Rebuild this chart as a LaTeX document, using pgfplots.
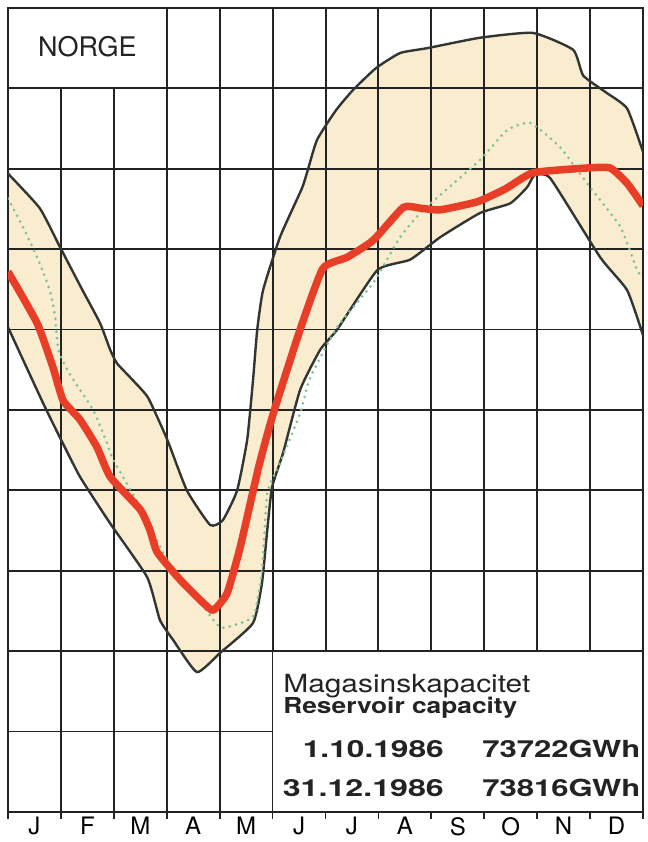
\documentclass[border=0pt]{standalone}
\usepackage{pgfplots}
\pgfplotsset{compat=1.18}
\usepgfplotslibrary{fillbetween}
\usepackage{fontspec}
\setmainfont{TeX Gyre Heros}
\usepackage{graphicx}

\definecolor{band}{RGB}{250,236,207}
\definecolor{redline}{RGB}{232,62,40}
\definecolor{envline}{RGB}{50,54,50}
\definecolor{gridc}{RGB}{35,35,35}
\definecolor{greendot}{RGB}{125,195,150}

\begin{document}
\begin{tikzpicture}
\begin{axis}[
  set layers,
  at={(0pt,0pt)}, anchor=south west,
  width=635pt, height=804pt, scale only axis,
  xmin=0, xmax=12, ymin=0, ymax=100,
  xtick={0.5,1.5,...,11.5},
  xticklabels={J,F,M,A,M,J,J,A,S,O,N,D},
  minor xtick={0,1,...,12},
  ytick={0,10,...,100}, yticklabels={},
  xminorgrids, ymajorgrids,
  major tick length=0pt, minor tick length=7pt,
  tick align=outside, xtick pos=bottom, ytick pos=left,
  tick style={line width=1.8pt, color=gridc},
  grid style={line width=1.8pt, color=gridc},
  every minor grid/.style={line width=2pt, color=gridc},
  axis line style={line width=1.8pt, color=gridc},
  xticklabel style={font=\fontsize{24}{24}\selectfont, inner sep=0pt, yshift=-5pt},
  /tikz/fill between/on layer=axis background,
]

% upper envelope
\addplot[name path=up, envline, line width=2.4pt, smooth, tension=0.3] coordinates {
  (0,79.4) (0.6,75.1) (0.98,70.3) (1.4,65.0) (1.74,60.8) (1.93,57.5) (2.06,55.8)
  (2.36,53.7) (2.65,51.5) (3.01,46.3) (3.38,40.0) (3.82,35.7) (4.06,36.3) (4.33,40.0)
  (4.52,46.3) (4.63,53.7) (4.71,60.0) (4.82,64.9) (5.14,71.5) (5.55,77.5) (5.65,79.5)
  (5.84,83.6) (6.2,87.3) (6.52,89.8) (6.95,92.5) (7.41,94.4) (7.92,95.0) (8.92,96.3)
  (9.92,96.9) (10.68,94.8) (10.87,91.6) (11.3,89.5) (11.70,87.5) (12,82.1)
};
% lower envelope
\addplot[name path=lo, envline, line width=2.4pt, smooth, tension=0.3] coordinates {
  (0,60.3) (0.66,50.9) (0.98,46.6) (1.36,41.7) (1.93,35.9) (2.63,29.2) (2.87,23.9)
  (3.12,21.4) (3.57,17.4) (4.01,19.8) (4.63,23.5) (4.80,28.5) (4.90,35.1) (4.99,40.4)
  (5.20,44.7) (5.52,52.5) (5.90,57.5) (6.22,60.0) (6.98,67.4) (7.60,68.7) (8.17,71.5)
  (8.92,74.5) (9.49,75.7) (9.81,77.7) (9.95,79.2) (10.25,78.8) (11.19,69.0)
  (11.70,64.9) (12,59.3)
};
\addplot[fill=band, draw=none] fill between[of=up and lo];

% dotted green curve
\addplot[greendot, line width=3pt, line cap=round, dash pattern=on 0pt off 6.5pt, smooth, tension=0.3] coordinates {
  (0,76.3) (0.28,72.8) (0.55,69.0) (0.79,64.9) (0.89,61.6) (0.95,57.5) (1.12,55.0)
  (1.36,52.5) (1.61,50.0) (1.87,45.9) (1.99,43.8) (2.50,37.9) (3.01,31.3) (3.44,28.0)
  (3.88,23.9) (4.06,22.9) (4.63,24.3) (4.80,30.1) (4.90,39.7) (5.14,43.4) (5.52,49.6)
  (5.71,54.0) (6.22,60.3) (6.90,65.8) (7.41,71.5) (7.79,74.5) (8.3,77.5) (8.92,81.1)
  (9.43,84.8) (9.87,85.7) (10.43,82.7) (11.0,77.7) (11.57,72.8) (11.89,67.4) (12,66.5)
};

% red curve 1986
\addplot[redline, line width=7.5pt, line join=round, smooth, tension=0.3] coordinates {
  (0,67.2) (0.55,60.8) (0.85,55.3) (1.04,51.2) (1.36,48.8) (1.68,45.4) (1.93,41.7)
  (2.50,37.6) (2.68,35.1) (2.82,32.3) (3.25,28.9) (3.69,26.0) (3.88,25.1) (4.14,27.2)
  (4.39,33.0) (4.74,43.0) (5.01,49.5) (5.52,60.0) (5.95,67.6) (6.41,69.0) (6.90,71.1)
  (7.47,75.2) (7.79,75.1) (8.17,74.9) (8.87,75.9) (9.4,77.5) (9.92,79.5) (10.94,80.1)
  (11.38,80.1) (11.70,78.2) (12,75.4)
};

% title box
\draw[line width=1.8pt, gridc, fill=white] (axis cs:0,90) rectangle (axis cs:3,100);
\node[font=\fontsize{27}{27}\selectfont, inner sep=0pt, text=gridc] at (axis cs:1.5,95.2) {NORGE};

% capacity box
\draw[line width=1.8pt, gridc, fill=white] (axis cs:5,0) rectangle (axis cs:12,20);
\node[anchor=base west, inner sep=0pt, text=gridc] at (axis cs:5.20,14.9)
  {\resizebox{247pt}{\height}{\fontsize{25}{25}\selectfont Magasinskapacitet}};
\node[anchor=base west, inner sep=0pt, text=gridc] at (axis cs:5.20,12.2)
  {\resizebox{234pt}{\height}{\fontsize{22}{22}\selectfont\bfseries Reservoir capacity}};
\node[anchor=base east, inner sep=0pt, text=gridc] at (axis cs:8.24,6.8)
  {\resizebox{141pt}{\height}{\fontsize{23.5}{23.5}\selectfont\bfseries 1.10.1986}};
\node[anchor=base east, inner sep=0pt, text=gridc] at (axis cs:8.24,1.9)
  {\resizebox{161pt}{\height}{\fontsize{23.5}{23.5}\selectfont\bfseries 31.12.1986}};
\node[anchor=base west, inner sep=0pt, text=gridc] at (axis cs:8.96,6.8)
  {\resizebox{158pt}{\height}{\fontsize{23.5}{23.5}\selectfont\bfseries 73722GWh}};
\node[anchor=base west, inner sep=0pt, text=gridc] at (axis cs:8.96,1.9)
  {\resizebox{158pt}{\height}{\fontsize{23.5}{23.5}\selectfont\bfseries 73816GWh}};
\end{axis}
\path (-8pt,-30pt) rectangle (639pt,812pt);
\end{tikzpicture}
\end{document}
